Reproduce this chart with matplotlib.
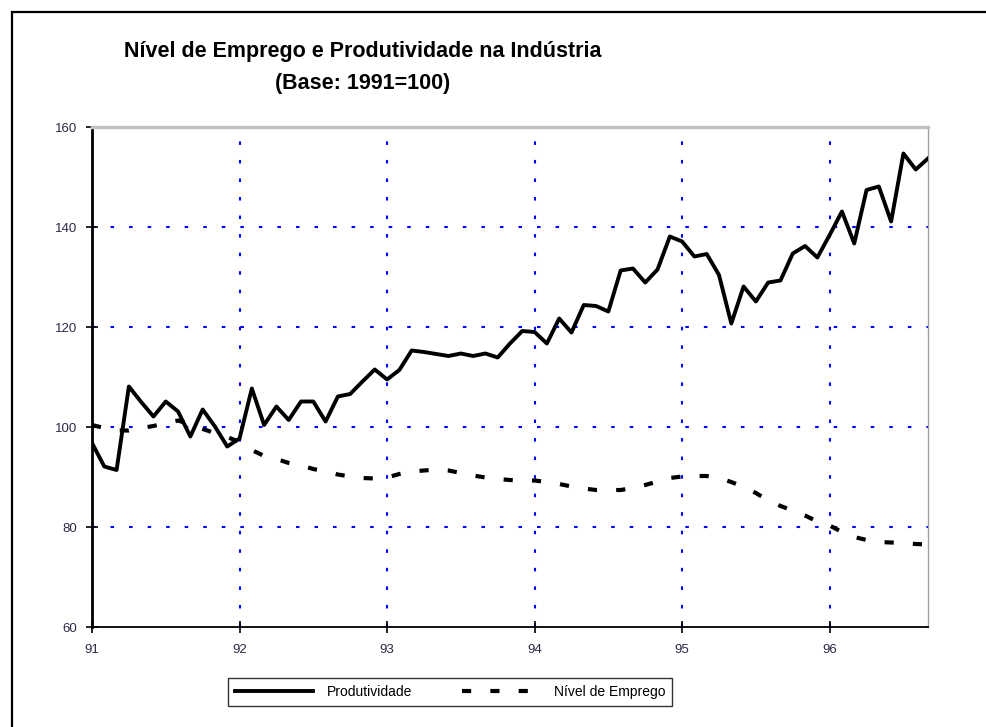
import matplotlib
matplotlib.use("Agg")
import matplotlib.pyplot as plt
import matplotlib.patches as mpatches
import numpy as np

plt.rcParams['font.family'] = ['Liberation Sans', 'DejaVu Sans']

# Monthly data, Jan 1991 .. Sep 1996
start_year = 91
produtividade = [96.8, 92.1, 91.4, 108.1, 105.0, 102.1, 105.1, 103.1, 98.1, 103.5, 100.1, 96.1,
                 97.7, 107.7, 100.4, 104.1, 101.4, 105.1, 105.1, 101.1, 106.1, 106.6, 109.1, 111.5,
                 109.5, 111.4, 115.3, 115.0, 114.6, 114.2, 114.7, 114.2, 114.7, 113.9, 116.7, 119.2,
                 119.0, 116.7, 121.7, 118.9, 124.4, 124.2, 123.1, 131.3, 131.7, 128.9, 131.5, 138.1,
                 137.1, 134.1, 134.6, 130.4, 120.7, 128.1, 125.1, 128.9, 129.3, 134.7, 136.2, 133.9,
                 138.4, 143.1, 136.7, 147.4, 148.1, 141.1, 154.7, 151.5, 153.7]
nivel_emprego = [100.4, 99.8, 99.3, 99.3, 99.8, 100.2, 100.8, 101.3, 100.5, 99.6, 98.8, 98.0,
                 97.0, 95.4, 94.2, 93.6, 92.8, 92.3, 91.6, 91.1, 90.5, 90.1, 89.8, 89.7,
                 89.9, 90.6, 91.1, 91.3, 91.5, 91.3, 90.8, 90.3, 89.9, 89.6, 89.4, 89.3,
                 89.3, 89.0, 88.6, 88.1, 87.7, 87.4, 87.4, 87.4, 87.8, 88.4, 89.1, 89.8,
                 90.1, 90.2, 90.2, 89.8, 89.0, 88.0, 86.8, 85.3, 84.2, 83.3, 82.3, 81.1,
                 80.3, 79.0, 78.0, 77.4, 77.0, 76.9, 76.8, 76.6, 76.5]
x_ticks = [91, 92, 93, 94, 95, 96]
y_ticks = [60, 80, 100, 120, 140, 160]

x = start_year + np.arange(len(produtividade)) / 12.0

W, H = 987, 727
fig = plt.figure(figsize=(W / 100, H / 100), dpi=100)
ax = fig.add_axes([92 / W, 1 - 627 / H, (928 - 92) / W, (627 - 127) / H])

ax.set_xlim(91, 91 + 68 / 12)
ax.set_ylim(60, 160)

grid_kw = dict(color='#0000ff', lw=1.5, linestyle=(0, (1.7, 7.2)), zorder=1)
for gx in x_ticks[1:]:
    ax.axvline(gx, **grid_kw)
for gy in y_ticks[1:-1]:
    ax.axhline(gy, **grid_kw)

ax.plot(x, produtividade, color='black', lw=2.8, solid_joinstyle='round', zorder=3,
        label='Produtividade')
ax.plot(x, nivel_emprego, color='black', lw=3.0, linestyle=(0, (2.2, 4.6)), zorder=3,
        label='Nível de Emprego')

ax.set_xticks(x_ticks)
ax.set_xticklabels([str(v) for v in x_ticks])
ax.set_yticks(y_ticks)
ax.set_yticklabels([str(v) for v in y_ticks])
ax.tick_params(direction='inout', length=9, width=1.2, colors='black',
               labelsize=9.5, labelcolor='#2a2a48')
ax.tick_params(axis='y', pad=6)
ax.tick_params(axis='x', pad=8)

ax.spines['left'].set_linewidth(2.0)
ax.spines['bottom'].set_linewidth(1.3)
ax.spines['top'].set_color('#c0c0c0')
ax.spines['top'].set_linewidth(2.5)
ax.spines['right'].set_color('#a0a0a0')
ax.spines['right'].set_linewidth(1.0)

title_kw = dict(ha='center', va='center', fontsize=15.5, fontweight='bold')
fig.text(363 / W, 1 - 52 / H, 'Nível de Emprego e Produtividade na Indústria', **title_kw)
fig.text(363 / W, 1 - 83 / H, '(Base: 1991=100)', **title_kw)

leg = fig.legend(loc='center', bbox_to_anchor=(450 / W, 1 - 692 / H), ncol=2,
                 frameon=True, fancybox=False, edgecolor='black', fontsize=10,
                 handlelength=5.6, handletextpad=1.0, columnspacing=3.6,
                 borderpad=0.5, borderaxespad=0)
leg.get_frame().set_linewidth(1.0)

fig.patches.append(mpatches.Rectangle((12 / W, -0.1), 2, 1 - 12 / H + 0.1,
                                      transform=fig.transFigure, fill=False,
                                      edgecolor='black', lw=1.6))

fig.savefig('out.png', dpi=100)
